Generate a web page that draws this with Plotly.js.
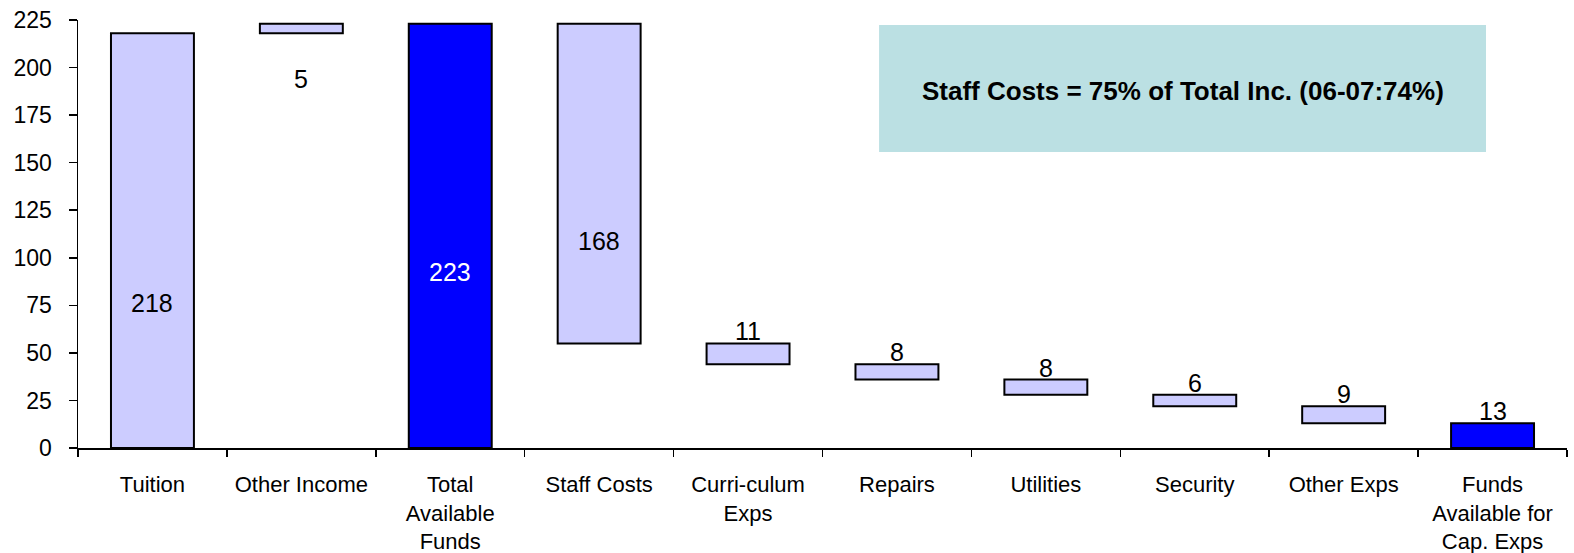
<!DOCTYPE html>
<html>
<head>
<meta charset="utf-8">
<script src="https://cdn.plot.ly/plotly-3.0.1.min.js"></script>
<style>
html,body{margin:0;padding:0;background:#fff;}
#chart{width:1574px;height:553px;}
</style>
</head>
<body>
<div id="chart"></div>
<script>
// ---- data ----
const categories = ["Tuition", "Other Income", "Total<br>Available<br>Funds", "Staff Costs",
  "Curri-culum<br>Exps", "Repairs", "Utilities", "Security", "Other Exps",
  "Funds<br>Available for<br>Cap. Exps"];
const values = [218, 5, 223, -168, -11, -8, -8, -6, -9, 13];
const measures = ["relative", "relative", "total", "relative", "relative", "relative",
  "relative", "relative", "relative", "total"];
const labels = ["218", "5", "223", "168", "11", "8", "8", "6", "9", "13"];
const yTicks = [0, 25, 50, 75, 100, 125, 150, 175, 200, 225];
const noteText = "Staff Costs = 75% of Total Inc. (06-07:74%)";

// ---- label placement (inside/below bars for the large ones, on top for the rest) ----
const labelPlacement = [
  {mode: "at", v: 76}, {mode: "at", v: 194}, {mode: "at", v: 92.7, color: "#ffffff"},
  {mode: "at", v: 109}, {mode: "top"}, {mode: "top"}, {mode: "top"}, {mode: "top"},
  {mode: "top"}, {mode: "top"}
];

// running totals to find bar tops
let run = 0;
const tops = [];
values.forEach((v, i) => {
  if (measures[i] === "total") { tops.push(run); }
  else {
    const prev = run; run += v;
    tops.push(Math.max(prev, run));
  }
});

const FONT = "Liberation Sans, Arial, sans-serif";

const annotations = categories.map((c, i) => {
  const p = labelPlacement[i];
  const a = {
    x: c, xref: "x", yref: "y", text: labels[i], showarrow: false,
    font: {family: FONT, size: 25, color: p.color || "#000000"}
  };
  if (p.mode === "top") { a.y = tops[i]; a.yanchor = "bottom"; a.yshift = -4; }
  else { a.y = p.v; a.yanchor = "middle"; }
  return a;
});

annotations.push({
  xref: "paper", yref: "paper", x: 0.7418, y: 0.835, xanchor: "center", yanchor: "middle",
  text: "<b>" + noteText + "</b>", showarrow: false,
  font: {family: FONT, size: 26, color: "#000000"}
});

const shapes = [{
  type: "rect", xref: "paper", yref: "paper", layer: "below",
  x0: 0.538, x1: 0.9456, y0: 0.6916, y1: 0.9883,
  fillcolor: "#BBE0E3", line: {width: 0}
}];

const trace = {
  type: "waterfall",
  x: categories,
  y: values,
  measure: measures,
  connector: {visible: false},
  increasing: {marker: {color: "#CCCCFF", line: {color: "#000000", width: 2}}},
  decreasing: {marker: {color: "#CCCCFF", line: {color: "#000000", width: 2}}},
  totals: {marker: {color: "#0000FF", line: {color: "#000000", width: 2}}},
  textinfo: "none",
  hoverinfo: "skip",
  showlegend: false
};

const layout = {
  width: 1574, height: 553,
  margin: {l: 78, r: 7, t: 20, b: 105},
  paper_bgcolor: "#ffffff", plot_bgcolor: "#ffffff",
  waterfallgap: 0.443,
  showlegend: false,
  font: {family: FONT, color: "#000000"},
  xaxis: {
    type: "category",
    range: [-0.5, 9.5],
    showline: true, linecolor: "#000000", linewidth: 1.5,
    ticks: "outside", tickson: "boundaries", ticklen: 7, tickcolor: "#000000", tickwidth: 1.5,
    showgrid: false, zeroline: false,
    tickangle: 0,
    tickfont: {size: 22, color: "#000000"},
    ticklabelstandoff: 16
  },
  yaxis: {
    range: [0, 225],
    tickvals: yTicks, ticktext: yTicks.map(String),
    showline: true, linecolor: "#000000", linewidth: 1.5,
    ticks: "outside", ticklen: 8, tickcolor: "#000000", tickwidth: 1.5,
    showgrid: false, zeroline: false,
    tickfont: {size: 23, color: "#000000"},
    ticklabelstandoff: 12
  },
  shapes: shapes,
  annotations: annotations
};

Plotly.newPlot("chart", [trace], layout, {displayModeBar: false, staticPlot: true});
</script>
</body>
</html>
